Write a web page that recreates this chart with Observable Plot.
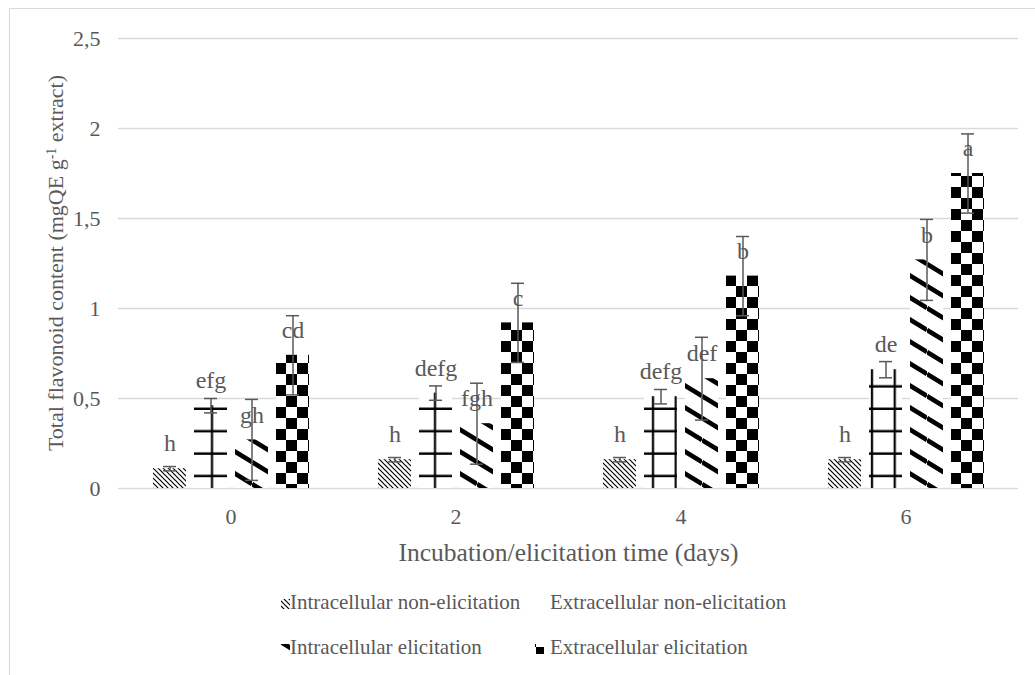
<!DOCTYPE html>
<html><head><meta charset="utf-8">
<script src="https://cdn.jsdelivr.net/npm/d3@7"></script>
<script src="https://cdn.jsdelivr.net/npm/@observablehq/plot@0.6"></script>
<style>
body{margin:0;background:#fff;font-family:"Liberation Serif","Times New Roman",serif;}
#wrap{position:relative;width:1035px;height:675px;overflow:hidden;background:#fff;}
#border{position:absolute;left:9px;top:8px;width:1200px;height:900px;border-left:1px solid #d9d9d9;border-top:1px solid #d9d9d9;pointer-events:none;}
#chart{position:absolute;left:0;top:0;}
.lg{position:absolute;font-size:21px;color:#595959;line-height:22px;white-space:nowrap;}
.sw{position:absolute;}
</style></head>
<body>
<svg width="0" height="0" style="position:absolute">
<defs id="pdefs"></defs>
</svg>
<div id="wrap">
<div id="chart"></div>
<div id="border"></div>
<div id="legend"></div>
</div>
<script>
const days = ["0", "2", "4", "6"];
const series = ["Intracellular non-elicitation", "Extracellular non-elicitation", "Intracellular elicitation", "Extracellular elicitation"];
const intraNon = [0.11, 0.16, 0.16, 0.16];
const intraNonErr = [0.012, 0.012, 0.012, 0.012];
const intraNonLabels = ["h", "h", "h", "h"];
const extraNon = [0.46, 0.53, 0.51, 0.66];
const extraNonErr = [0.04, 0.04, 0.04, 0.045];
const extraNonLabels = ["efg", "defg", "defg", "de"];
const intraElic = [0.27, 0.36, 0.61, 1.27];
const intraElicErr = [0.225, 0.225, 0.23, 0.225];
const intraElicLabels = ["gh", "fgh", "def", "b"];
const extraElic = [0.74, 0.92, 1.18, 1.75];
const extraElicErr = [0.22, 0.22, 0.22, 0.22];
const extraElicLabels = ["cd", "c", "b", "a"];
const yTicks = [0, 0.5, 1, 1.5, 2, 2.5];
const yLabelParts = ["Total flavonoid content (mgQE g", "-1", " extract)"];
const xLabel = "Incubation/elicitation time (days)";

// ---- fill patterns (styling only) ----
const defs = d3.select("#pdefs");
function pat(id, w, h) {
  const p = defs.append("pattern").attr("id", id).attr("patternUnits", "userSpaceOnUse").attr("width", w).attr("height", h);
  p.append("rect").attr("width", w).attr("height", h).attr("fill", "#fff");
  return p;
}
// thin downward diagonals
{
  const p = pat("pIntraNon", 5, 5);
  p.append("path").attr("d", "M0,0 L5,5 M-2.5,2.5 L2.5,7.5 M2.5,-2.5 L7.5,2.5").attr("stroke", "#000").attr("stroke-width", 1.2);
}
// ladder grid, phase per day
const gridOffsets = [7.25, 5.25, 21, 15];
gridOffsets.forEach((o, k) => {
  const p = pat("pExtraNon" + k, 22.75, 22.4);
  p.append("path").attr("d", `M0,5.6 H22.75 M${o},0 V22.4`).attr("stroke", "#000").attr("stroke-width", 2.2);
});
// wide downward stripes
{
  const p = pat("pIntraElic", 36, 22);
  p.append("path").attr("d", "M0,0 L36,22 M0,-22 L36,0 M0,22 L36,44").attr("stroke", "#000").attr("stroke-width", 4.6);
}
// checkerboard
{
  const p = pat("pExtraElic", 22, 22);
  p.append("rect").attr("width", 11).attr("height", 11).attr("fill", "#000");
  p.append("rect").attr("x", 11).attr("y", 11).attr("width", 11).attr("height", 11).attr("fill", "#000");
}
function fillFor(d) {
  const j = series.indexOf(d.series), k = days.indexOf(d.day);
  return j === 0 ? "url(#pIntraNon)" : j === 1 ? `url(#pExtraNon${k})` : j === 2 ? "url(#pIntraElic)" : "url(#pExtraElic)";
}

const values = [intraNon, extraNon, intraElic, extraElic];
const errs = [intraNonErr, extraNonErr, intraElicErr, extraElicErr];
const letters = [intraNonLabels, extraNonLabels, intraElicLabels, extraElicLabels];

const rows = [];
days.forEach((d, i) => series.forEach((s, j) => rows.push({day: d, series: s, value: values[j][i], err: errs[j][i], label: letters[j][i]})));

const gray = "#595959";
const chart = Plot.plot({
  width: 1035, height: 570,
  marginTop: 38, marginBottom: 82, marginLeft: 118, marginRight: 17,
  style: {fontFamily: "'Liberation Serif', 'Times New Roman', serif", fontSize: "22px", color: gray, background: "transparent", overflow: "visible"},
  fx: {domain: days, padding: 0},
  x: {domain: series, paddingInner: 0.2, paddingOuter: 0.84, axis: null},
  y: {domain: [0, 2.5]},
  color: {type: "identity"},
  marks: [
    Plot.gridY(yTicks, {stroke: "#d9d9d9", strokeOpacity: 1, strokeWidth: 1.3}),
    Plot.barY(rows, {fx: "day", x: "series", y: "value", fill: fillFor}),
    Plot.text(rows, {fx: "day", x: "series", y: "value", text: "label", dy: -25, fill: gray, fontSize: 24}),
    Plot.ruleX(rows, {fx: "day", x: "series", y1: d => d.value - d.err, y2: d => d.value + d.err, stroke: gray, strokeWidth: 1.5}),
    Plot.tickY(rows, {fx: "day", x: "series", y: d => d.value + d.err, insetLeft: 10, insetRight: 10, stroke: gray, strokeWidth: 1.5}),
    Plot.tickY(rows, {fx: "day", x: "series", y: d => d.value - d.err, insetLeft: 10, insetRight: 10, stroke: gray, strokeWidth: 1.5}),
    Plot.axisY(yTicks, {tickSize: 0, tickPadding: 18, fontSize: 22, tickFormat: d => String(d).replace(".", ","), label: null}),
    Plot.axisFx({anchor: "bottom", tickSize: 0, tickPadding: 20, fontSize: 22, label: xLabel, labelAnchor: "center", labelOffset: 72, labelArrow: "none"})
  ]
});
document.getElementById("chart").appendChild(chart);

// x-axis title size
d3.select(chart).selectAll("text").each(function() {
  if (this.textContent === xLabel) d3.select(this).attr("font-size", 25.5);
});

// y-axis title with superscript, centred on the plot frame
{
  const yr = chart.scale("y").range; // [bottom, top]
  const cy = (yr[0] + yr[1]) / 2;
  const t = d3.select(chart).append("text")
    .attr("transform", `translate(56,${cy}) rotate(-90)`)
    .attr("text-anchor", "middle")
    .attr("fill", gray)
    .attr("font-size", 22)
    .attr("dy", "0.32em");
  t.append("tspan").text(yLabelParts[0]);
  t.append("tspan").attr("font-size", 14).attr("dy", -7).text(yLabelParts[1]);
  t.append("tspan").attr("dy", 7).text(yLabelParts[2]);
}

// legend
const legendFills = ["url(#pIntraNon)", "url(#pExtraNon0)", "url(#pIntraElic)", "url(#pExtraElic)"];
const legendItems = [
  {name: series[0], sx: 281, tx: 290, y: 591},
  {name: series[1], sx: 540, tx: 550, y: 591},
  {name: series[2], sx: 281, tx: 290, y: 636},
  {name: series[3], sx: 535, tx: 550, y: 636}
];
const lg = document.getElementById("legend");
legendItems.forEach((it, i) => {
  const sw = document.createElementNS("http://www.w3.org/2000/svg", "svg");
  sw.setAttribute("class", "sw");
  sw.setAttribute("width", 9); sw.setAttribute("height", 10);
  sw.setAttribute("viewBox", "10 8 9 10");
  sw.style.left = it.sx + "px"; sw.style.top = (it.y + 8) + "px";
  const r = document.createElementNS("http://www.w3.org/2000/svg", "rect");
  r.setAttribute("x", 10); r.setAttribute("y", 8);
  r.setAttribute("width", 9); r.setAttribute("height", 10); r.setAttribute("fill", legendFills[i]);
  sw.appendChild(r);
  lg.appendChild(sw);
  const t = document.createElement("div");
  t.className = "lg"; t.textContent = it.name;
  t.style.left = it.tx + "px"; t.style.top = it.y + "px";
  lg.appendChild(t);
});
</script>
</body></html>
